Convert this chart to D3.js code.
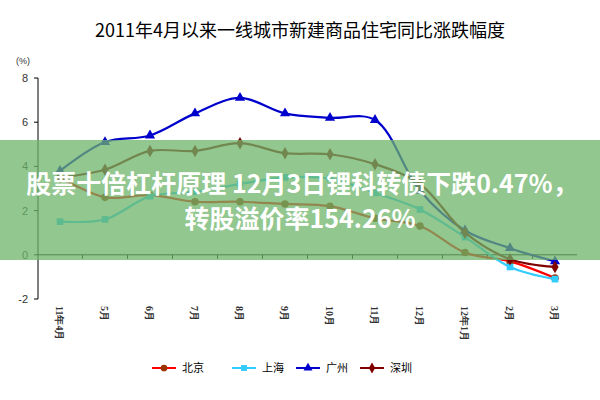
<!DOCTYPE html>
<html><head><meta charset="utf-8">
<script src="https://cdn.jsdelivr.net/npm/d3@7"></script>
<style>body{margin:0;background:#fff}svg{display:block}</style>
</head><body>
<div id="chart"></div>
<script>
// x axis months and series (%)
var months = ["11年4月","5月","6月","7月","8月","9月","10月","11月","12月","12年1月","2月","3月"];
var beijing  = [3.5, 2.6, 2.7, 2.4, 2.4, 2.3, 2.2, 1.65, 1.3, 0.1, -0.3, -1.05];
var shanghai = [1.5, 1.6, 2.65, 2.85, 3.2, 3.5, 3.45, 2.8, 2.05, 0.8, -0.55, -1.1];
var guangzhou = [3.8, 5.1, 5.4, 6.4, 7.1, 6.4, 6.2, 6.1, 2.9, 1.1, 0.3, -0.3];
var shenzhen = [3.5, 3.85, 4.7, 4.7, 5.05, 4.6, 4.55, 4.1, 3.2, 1.0, -0.2, -0.55];
var yTicks = [-2, 0, 2, 4, 6, 8];
var seriesNames = ["北京","上海","广州","深圳"];

var svg = d3.select('#chart').append('svg').attr('width', 600).attr('height', 400);

svg.append('text').attr('x', 300).attr('y', 37).attr('text-anchor', 'middle')
   .style('font', '18px "Noto Sans CJK SC"').text('2011年4月以来一线城市新建商品住宅同比涨跌幅度');

var x = d3.scalePoint().domain(months).range([60, 555]);
var y = d3.scaleLinear().domain([-2, 8]).range([299, 78]);

// axes
svg.append('line').attr('x1', 38).attr('x2', 38).attr('y1', y(8)).attr('y2', y(-2)).attr('stroke', '#000');
svg.append('line').attr('x1', 38).attr('x2', 577).attr('y1', y(0)).attr('y2', y(0)).attr('stroke', '#000');
yTicks.forEach(function(t) {
    svg.append('line').attr('x1', 34).attr('x2', 38).attr('y1', y(t)).attr('y2', y(t)).attr('stroke', '#000');
    svg.append('text').attr('x', 28).attr('y', y(t) + 4).attr('text-anchor', 'end')
       .style('font', '11px "Liberation Sans"').attr('fill', '#333').text(t);
});
svg.append('text').attr('x', 16).attr('y', 64).style('font', '9px "Liberation Sans"').attr('fill', '#333').text('(%)');
var step = x.step();
months.forEach(function(m, i) {
    var xx = x(m) + step / 2;
    if (i < months.length - 1)
        svg.append('line').attr('x1', xx).attr('x2', xx).attr('y1', y(0)).attr('y2', y(0) + 4).attr('stroke', '#000');
    svg.append('text').attr('transform', 'translate(' + (x(m) - 4) + ',306) rotate(90)')
       .style('font', 'bold 10px "Liberation Serif"').attr('fill', '#333').text(m);
});

var line = d3.line().x(function(d, i) { return x(months[i]); }).y(function(d) { return y(d); }).curve(d3.curveCatmullRom);

var series = [
    {name: '北京', values: beijing, color: '#ff0000', mark: '#993300', shape: d3.symbolCircle},
    {name: '上海', values: shanghai, color: '#33ccff', mark: '#33ccff', shape: d3.symbolSquare},
    {name: '广州', values: guangzhou, color: '#0000cc', mark: '#0000cc', shape: d3.symbolTriangle},
    {name: '深圳', values: shenzhen, color: '#800000', mark: '#800000', shape: d3.symbolDiamond}
];

series.forEach(function(s) {
    svg.append('path').attr('d', line(s.values)).attr('fill', 'none').attr('stroke', s.color).attr('stroke-width', 2.2);
    svg.selectAll(null).data(s.values).enter().append('path')
       .attr('transform', function(d, i) { return 'translate(' + x(months[i]) + ',' + y(d) + ')'; })
       .attr('d', d3.symbol().type(s.shape).size(45)).attr('fill', s.mark);
});

// legend
var lx = [152, 232, 296, 360];
series.forEach(function(s, i) {
    var g = svg.append('g').attr('transform', 'translate(' + lx[i] + ',368)');
    g.append('line').attr('x1', 0).attr('x2', 24).attr('stroke', s.color).attr('stroke-width', 2);
    g.append('path').attr('transform', 'translate(12,0)').attr('d', d3.symbol().type(s.shape).size(35)).attr('fill', s.mark);
    g.append('text').attr('x', 30).attr('y', 4).style('font', '11px "Noto Sans CJK SC"').text(seriesNames[i]);
});

// overlay banner
svg.append('rect').attr('x', 0).attr('y', 140).attr('width', 600).attr('height', 120).attr('fill', 'rgb(110,180,105)').attr('opacity', 0.75);
svg.append('text').attr('x', 302).attr('y', 193).attr('text-anchor', 'middle').attr('fill', '#fff')
   .style('font', 'bold 25px "Noto Sans CJK SC"').text('股票十倍杠杆原理 12月3日锂科转债下跌0.47%，');
svg.append('text').attr('x', 300).attr('y', 228).attr('text-anchor', 'middle').attr('fill', '#fff')
   .style('font', 'bold 25px "Noto Sans CJK SC"').text('转股溢价率154.26%');
</script>
</body></html>
